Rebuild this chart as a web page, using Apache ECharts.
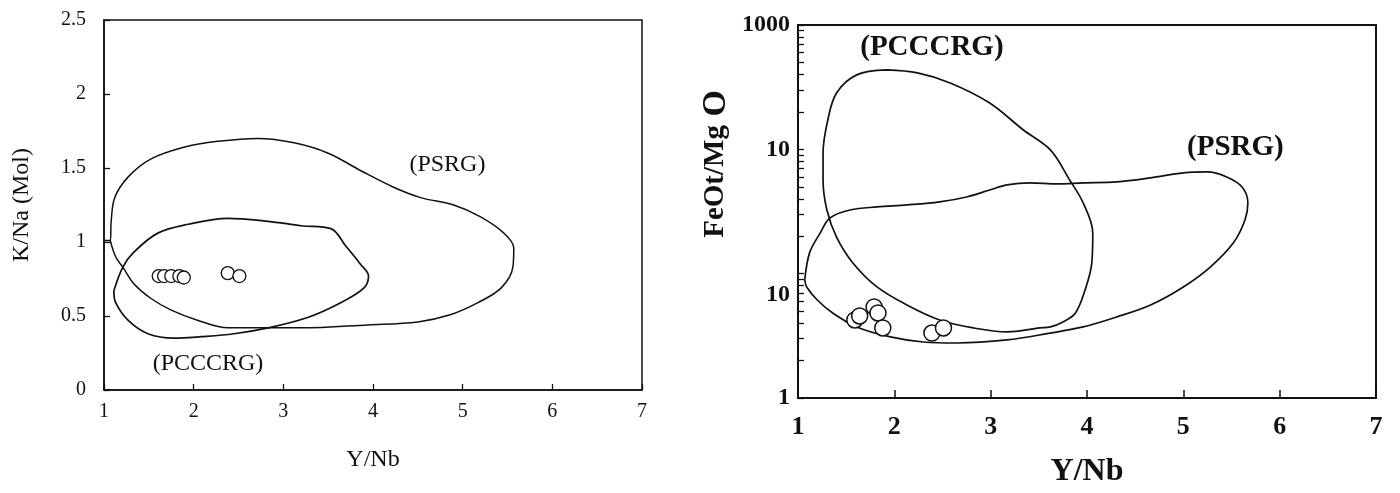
<!DOCTYPE html>
<html>
<head>
<meta charset="utf-8">
<title>Y/Nb discrimination diagrams</title>
<script src="https://cdn.jsdelivr.net/npm/echarts@6/dist/echarts.min.js"></script>
<style>
  html, body { margin: 0; padding: 0; background: #fff; }
  #main { width: 1400px; height: 493px; }
</style>
</head>
<body>
<div id="main"></div>
<script>
// ---- left diagram: K/Na (Mol) vs Y/Nb ----
const leftXTicks = [1, 2, 3, 4, 5, 6, 7];
const leftYTicks = [0, 0.5, 1, 1.5, 2, 2.5];

// PSRG field outline [Y/Nb, K/Na]
const leftPsrg = [[1.00, 1.01], [1.07, 1.01], [1.08, 1.14], [1.12, 1.30], [1.27, 1.44],
  [1.52, 1.56], [1.89, 1.64], [2.27, 1.68], [2.72, 1.70], [3.12, 1.67], [3.50, 1.60], [3.87, 1.48],
  [4.23, 1.37], [4.53, 1.30], [4.90, 1.25], [5.20, 1.17], [5.46, 1.06], [5.57, 0.96], [5.56, 0.83],
  [5.43, 0.69], [5.17, 0.59], [4.87, 0.51], [4.50, 0.46], [3.94, 0.44], [3.20, 0.42], [2.75, 0.42],
  [2.38, 0.42], [2.05, 0.47], [1.75, 0.54], [1.52, 0.62], [1.33, 0.72], [1.21, 0.83], [1.13, 0.90],
  [1.07, 1.01]];
// PCCCRG field outline
const leftPcccrg = [[1.11, 0.67], [1.21, 0.83], [1.33, 0.93], [1.60, 1.06], [1.94, 1.12], [2.38, 1.16],
  [2.83, 1.14], [3.20, 1.11], [3.53, 1.09], [3.70, 0.97], [3.86, 0.85], [3.95, 0.77], [3.90, 0.69],
  [3.64, 0.59], [3.27, 0.49], [2.83, 0.42], [2.45, 0.38], [2.08, 0.36], [1.78, 0.35], [1.49, 0.38],
  [1.27, 0.47], [1.13, 0.59], [1.11, 0.67]];
// samples
const leftSampleX = [1.61, 1.67, 1.75, 1.84, 1.89, 2.38, 2.51];
const leftSampleY = [0.77, 0.77, 0.77, 0.77, 0.76, 0.79, 0.77];
// field names
const leftLabelText = ["(PSRG)", "(PCCCRG)"];
const leftLabelX = [4.83, 2.16];
const leftLabelY = [1.52, 0.18];

// ---- right diagram: FeOt/MgO vs Y/Nb ----
const rightXTicks = [1, 2, 3, 4, 5, 6, 7];
const rightYTickValues = [1, 6.7, 100, 1000];
const rightYTickLabels = ["1", "10", "10", "1000"];
const rightYTickMarks = [1, 2, 3, 4, 5, 6, 7, 8, 9, 10, 20, 30, 40, 50, 60, 70, 80, 90,
  100, 200, 300, 400, 500, 600, 700, 800, 900, 1000];

const rightPcccrg = [[1.92, 435], [2.24, 412], [2.58, 342], [2.99, 236], [3.34, 143], [3.62, 98.9],
  [3.82, 56.7], [3.96, 37.1], [4.06, 21.2], [4.05, 12.2], [3.98, 7.39], [3.88, 4.83], [3.75, 4.09],
  [3.62, 3.73], [3.51, 3.66], [3.17, 3.40], [2.82, 3.66], [2.47, 4.24], [2.13, 5.60], [1.82, 7.82],
  [1.57, 12.2], [1.40, 19.7], [1.30, 32.5], [1.26, 56.7], [1.26, 93.5], [1.31, 173], [1.40, 284],
  [1.61, 397], [1.92, 435]];
const rightPsrg = [[1.07, 8.90], [1.12, 14.7], [1.23, 21.2], [1.33, 28.0], [1.54, 32.5], [1.82, 34.4],
  [2.13, 35.7], [2.47, 37.8], [2.75, 41.4], [2.99, 47.1], [3.17, 51.7], [3.41, 53.7], [3.69, 52.7],
  [3.96, 53.7], [4.31, 54.7], [4.66, 58.9], [5.00, 64.6], [5.25, 65.8], [5.45, 60.0], [5.61, 49.8],
  [5.67, 37.1], [5.64, 27.0], [5.52, 17.7], [5.28, 11.3], [5.00, 7.82], [4.66, 5.60], [4.31, 4.49],
  [3.96, 3.73], [3.62, 3.33], [3.17, 2.93], [2.65, 2.77], [2.30, 2.82], [1.96, 3.10], [1.61, 3.73],
  [1.36, 4.83], [1.20, 6.14], [1.09, 7.82], [1.07, 8.90]];
const rightSampleX = [1.59, 1.64, 1.79, 1.83, 1.88, 2.39, 2.51];
const rightSampleY = [4.24, 4.57, 5.40, 4.83, 3.66, 3.33, 3.66];
const rightLabelText = ["(PCCCRG)", "(PSRG)"];
const rightLabelX = [2.39, 5.54];
const rightLabelY = [655, 103];

const serif = "Liberation Serif";
const ink = "#111";

// pick the printed label closest (in log space) to a tick value
function rightYLabel(v) {
  let best = 0;
  rightYTickValues.forEach((t, i) => {
    if (Math.abs(Math.log10(v / t)) < Math.abs(Math.log10(v / rightYTickValues[best]))) best = i;
  });
  return rightYTickLabels[best];
}

function points(xs, ys) {
  return xs.map((x, i) => [x, ys[i]]);
}
function labelItems(texts, xs, ys) {
  return texts.map((t, i) => ({ name: t, value: [xs[i], ys[i]] }));
}

function outline(data, axis, width) {
  return {
    type: "line", xAxisIndex: axis, yAxisIndex: axis, data: data,
    smooth: 0.35, symbol: "none", silent: true,
    lineStyle: { color: ink, width: width }
  };
}

function fieldNames(items, axis, size, weight) {
  return {
    type: "scatter", xAxisIndex: axis, yAxisIndex: axis, silent: true, z: 6,
    data: items, symbolSize: 1,
    itemStyle: { color: "#fff", opacity: 1 },
    label: {
      show: true, position: "inside", formatter: "{b}", opacity: 1,
      textBorderWidth: 0, fontFamily: serif, fontSize: size, fontWeight: weight, color: ink
    }
  };
}

let myChart = echarts.init(document.getElementById("main"));
let option = {
  backgroundColor: "#fff",
  animation: false,
  grid: [
    { left: 104, top: 20, width: 538, height: 370, show: true, borderColor: ink, borderWidth: 1.5 },
    { left: 798, top: 25, width: 578, height: 373, show: true, borderColor: ink, borderWidth: 2 }
  ],
  xAxis: [
    {
      gridIndex: 0, type: "value", min: 1, max: 7, interval: 1,
      axisLine: { lineStyle: { color: ink, width: 1.5 } },
      axisTick: { inside: true, length: 6, lineStyle: { color: ink, width: 1.3 } },
      axisLabel: { margin: 12, fontFamily: serif, fontSize: 20, color: ink },
      splitLine: { show: false },
      name: "Y/Nb", nameLocation: "middle", nameGap: 58,
      nameTextStyle: { fontFamily: serif, fontSize: 24, color: ink }
    },
    {
      gridIndex: 1, type: "value", min: 1, max: 7, interval: 1,
      axisLine: { lineStyle: { color: ink, width: 2 } },
      axisTick: { inside: true, length: 8, lineStyle: { color: ink, width: 1.5 } },
      axisLabel: { margin: 16, fontFamily: serif, fontSize: 26, fontWeight: "bold", color: ink },
      splitLine: { show: false },
      name: "Y/Nb", nameLocation: "middle", nameGap: 58,
      nameTextStyle: { fontFamily: serif, fontSize: 32, fontWeight: "bold", color: ink }
    }
  ],
  yAxis: [
    {
      gridIndex: 0, type: "value", min: 0, max: 2.5, interval: 0.5,
      axisLine: { lineStyle: { color: ink, width: 1.5 } },
      axisTick: { inside: true, length: 6, lineStyle: { color: ink, width: 1.3 } },
      axisLabel: { margin: 18, fontFamily: serif, fontSize: 20, color: ink },
      splitLine: { show: false },
      name: "K/Na (Mol)", nameLocation: "middle", nameGap: 70,
      nameTextStyle: { fontFamily: serif, fontSize: 24, color: ink }
    },
    {
      gridIndex: 1, type: "log", logBase: 10, min: 1, max: 1000,
      axisLine: { lineStyle: { color: ink, width: 2 } },
      axisTick: { inside: true, length: 6, customValues: rightYTickMarks, lineStyle: { color: ink, width: 1.3 } },
      axisLabel: {
        margin: 8, fontFamily: serif, fontSize: 24, fontWeight: "bold", color: ink,
        customValues: rightYTickValues, formatter: rightYLabel
      },
      splitLine: { show: false }
    }
  ],
  graphic: [
    {
      type: "text", x: 716, y: 164, rotation: Math.PI / 2,
      style: {
        text: "{a|FeOt/Mg}{b| O}", align: "center", verticalAlign: "middle",
        rich: {
          a: { fontFamily: serif, fontSize: 29, fontWeight: "bold", fill: ink },
          b: { fontFamily: serif, fontSize: 34, fontWeight: "bold", fill: ink }
        }
      }
    }
  ],
  series: [
    outline(leftPsrg, 0, 1.5),
    outline(leftPcccrg, 0, 1.7),
    {
      type: "scatter", xAxisIndex: 0, yAxisIndex: 0, z: 5,
      data: points(leftSampleX, leftSampleY), symbol: "circle", symbolSize: 13,
      itemStyle: { color: "#fff", borderColor: ink, borderWidth: 1.3, opacity: 1 }
    },
    fieldNames(labelItems(leftLabelText, leftLabelX, leftLabelY), 0, 24, "normal"),
    outline(rightPcccrg, 1, 1.7),
    outline(rightPsrg, 1, 1.7),
    {
      type: "scatter", xAxisIndex: 1, yAxisIndex: 1, z: 5,
      data: points(rightSampleX, rightSampleY), symbol: "circle", symbolSize: 16,
      itemStyle: { color: "#fff", borderColor: ink, borderWidth: 1.5, opacity: 1 }
    },
    fieldNames(labelItems(rightLabelText, rightLabelX, rightLabelY), 1, 29, "bold")
  ]
};
myChart.setOption(option);
</script>
</body>
</html>
